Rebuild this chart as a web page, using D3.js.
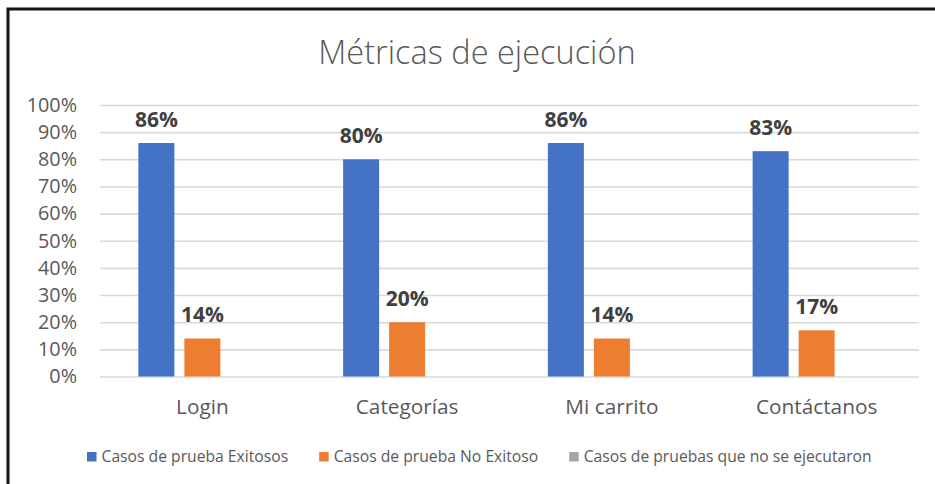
<!DOCTYPE html>
<html>
<head>
<meta charset="utf-8">
<script src="https://cdn.jsdelivr.net/npm/d3@7"></script>
<style>
  html, body { margin: 0; padding: 0; background: #fff; }
  svg { display: block; }
  text { font-family: "Open Sans", "Noto Sans", sans-serif; }
</style>
</head>
<body>
<svg id="chart" width="935" height="484"></svg>
<script>
// Execution metrics per module (share of test cases)
const categories = ["Login", "Categorías", "Mi carrito", "Contáctanos"];
const seriesNames = [
  "Casos de prueba Exitosos",
  "Casos de prueba No Exitoso",
  "Casos de pruebas que no se ejecutaron"
];
const exitosos   = [0.86, 0.80, 0.86, 0.83];
const noExitosos = [0.14, 0.20, 0.14, 0.17];
const noEjecutados = [0, 0, 0, 0];
const yTicks = [0, 0.1, 0.2, 0.3, 0.4, 0.5, 0.6, 0.7, 0.8, 0.9, 1.0];
const titleText = "Métricas de ejecución";

const seriesValues = [exitosos, noExitosos, noEjecutados];
const colors = ["#4472C4", "#ED7D31", "#A5A5A5"];

const svg = d3.select("#chart");
const W = 935, H = 484;

// frame around the chart
svg.append("rect")
  .attr("x", 8).attr("y", 9)
  .attr("width", W + 20).attr("height", H + 20)
  .attr("fill", "#fff")
  .attr("stroke", "#151515")
  .attr("stroke-width", 3);

// title
svg.append("text")
  .attr("x", 477).attr("y", 64)
  .attr("text-anchor", "middle")
  .attr("font-size", 32.5)
  .attr("font-weight", 300)
  .attr("fill", "#595959")
  .text(titleText);

const plot = { left: 100, right: 919, top: 105, bottom: 376.5 };

const x0 = d3.scaleBand()
  .domain(categories)
  .range([plot.left, plot.right])
  .paddingInner(0).paddingOuter(0);

const groupW = 128;
const x1 = d3.scaleBand()
  .domain(d3.range(seriesNames.length))
  .range([0, groupW])
  .paddingInner(10 / 46).paddingOuter(0);

const y = d3.scaleLinear().domain([0, 1]).range([plot.bottom, plot.top]);

// gridlines and percentage ticks
const yAxis = d3.axisLeft(y)
  .tickValues(yTicks)
  .tickSize(-(plot.right - plot.left))
  .tickPadding(23)
  .tickFormat(d3.format(".0%"));

const gy = svg.append("g")
  .attr("transform", `translate(${plot.left},0)`)
  .call(yAxis);
gy.select(".domain").remove();
gy.selectAll(".tick line")
  .attr("stroke", "#d9d9d9")
  .attr("stroke-width", 1.6);
gy.selectAll(".tick text")
  .attr("font-size", 19.8)
  .attr("fill", "#595959")
  .attr("font-family", "'Open Sans', sans-serif");

// category axis labels
const xAxis = d3.axisBottom(x0).tickSize(0).tickPadding(0);
const gx = svg.append("g")
  .attr("transform", `translate(0,${plot.bottom})`)
  .call(xAxis);
gx.select(".domain").remove();
gx.selectAll(".tick text")
  .attr("font-size", 20.8)
  .attr("fill", "#595959")
  .attr("font-family", "'Open Sans', sans-serif")
  .attr("dy", 0)
  .attr("y", 37.5);

// bars
const groups = svg.append("g").selectAll("g")
  .data(categories)
  .join("g")
  .attr("transform", d => `translate(${x0(d) + (x0.bandwidth() - groupW) / 2},0)`);

groups.selectAll("rect")
  .data((c, ci) => seriesValues.map((vals, si) => ({ si, v: vals[ci] })))
  .join("rect")
  .attr("x", d => x1(d.si))
  .attr("width", x1.bandwidth())
  .attr("y", d => y(d.v))
  .attr("height", d => y(0) - y(d.v))
  .attr("fill", d => colors[d.si]);

// value labels
groups.selectAll("text.val")
  .data((c, ci) => seriesValues.map((vals, si) => ({ si, v: vals[ci] })).filter(d => d.v > 0))
  .join("text")
  .attr("class", "val")
  .attr("x", d => x1(d.si) + x1.bandwidth() / 2)
  .attr("y", d => y(d.v) - 16)
  .attr("text-anchor", "middle")
  .attr("font-size", 21)
  .attr("font-weight", 700)
  .attr("fill", "#404040")
  .text(d => d3.format(".0%")(d.v));

// legend
const legend = svg.append("g").attr("transform", "translate(87,456.5)");
let lx = 0;
seriesNames.forEach((name, i) => {
  const item = legend.append("g").attr("transform", `translate(${lx},0)`);
  item.append("rect")
    .attr("x", 0).attr("y", -4.5)
    .attr("width", 9.5).attr("height", 9.5)
    .attr("fill", colors[i]);
  const t = item.append("text")
    .attr("x", 14.5).attr("y", 0)
    .attr("dy", "0.35em")
    .attr("font-size", 15.7)
    .attr("fill", "#595959")
    .text(name);
  lx += 14.5 + t.node().getComputedTextLength() + 31;
});
</script>
</body>
</html>
